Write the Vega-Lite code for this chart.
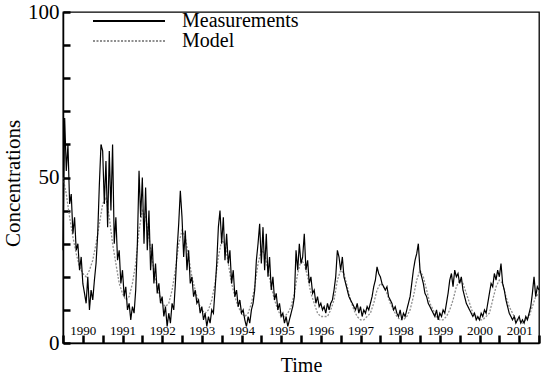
{
  "$schema": "https://vega.github.io/schema/vega-lite/v6.json",
  "width": 476,
  "height": 331,
  "autosize": {"type": "none"},
  "padding": {"left": 63, "top": 12, "right": 4, "bottom": 38},
  "background": "white",
  "config": {
    "font": "Liberation Serif",
    "view": {"stroke": "black", "strokeWidth": 1.3}
  },
  "datasets": {
    "meas": [
      {"t":1990.000,"v":28},{"t":1990.042,"v":68},{"t":1990.083,"v":52},{"t":1990.125,"v":60},{"t":1990.167,"v":42},{"t":1990.208,"v":45},{"t":1990.250,"v":33},{"t":1990.292,"v":38},{"t":1990.333,"v":28},{"t":1990.375,"v":30},{"t":1990.417,"v":22},{"t":1990.458,"v":26},{"t":1990.500,"v":18},{"t":1990.542,"v":15},{"t":1990.583,"v":12},{"t":1990.625,"v":20},{"t":1990.667,"v":10},{"t":1990.708,"v":16},{"t":1990.750,"v":13},{"t":1990.792,"v":19},{"t":1990.833,"v":24},{"t":1990.875,"v":33},{"t":1990.917,"v":48},{"t":1990.958,"v":60},
      {"t":1991.000,"v":58},{"t":1991.042,"v":42},{"t":1991.083,"v":55},{"t":1991.125,"v":35},{"t":1991.167,"v":58},{"t":1991.208,"v":40},{"t":1991.250,"v":60},{"t":1991.292,"v":30},{"t":1991.333,"v":38},{"t":1991.375,"v":25},{"t":1991.417,"v":28},{"t":1991.458,"v":18},{"t":1991.500,"v":22},{"t":1991.542,"v":14},{"t":1991.583,"v":17},{"t":1991.625,"v":10},{"t":1991.667,"v":12},{"t":1991.708,"v":7},{"t":1991.750,"v":11},{"t":1991.792,"v":9},{"t":1991.833,"v":16},{"t":1991.875,"v":30},{"t":1991.917,"v":52},{"t":1991.958,"v":38},
      {"t":1992.000,"v":50},{"t":1992.042,"v":30},{"t":1992.083,"v":47},{"t":1992.125,"v":28},{"t":1992.167,"v":40},{"t":1992.208,"v":22},{"t":1992.250,"v":30},{"t":1992.292,"v":18},{"t":1992.333,"v":24},{"t":1992.375,"v":15},{"t":1992.417,"v":18},{"t":1992.458,"v":12},{"t":1992.500,"v":14},{"t":1992.542,"v":8},{"t":1992.583,"v":11},{"t":1992.625,"v":5},{"t":1992.667,"v":9},{"t":1992.708,"v":6},{"t":1992.750,"v":12},{"t":1992.792,"v":10},{"t":1992.833,"v":18},{"t":1992.875,"v":28},{"t":1992.917,"v":36},{"t":1992.958,"v":46},
      {"t":1993.000,"v":38},{"t":1993.042,"v":26},{"t":1993.083,"v":34},{"t":1993.125,"v":22},{"t":1993.167,"v":28},{"t":1993.208,"v":18},{"t":1993.250,"v":20},{"t":1993.292,"v":14},{"t":1993.333,"v":16},{"t":1993.375,"v":12},{"t":1993.417,"v":13},{"t":1993.458,"v":9},{"t":1993.500,"v":11},{"t":1993.542,"v":7},{"t":1993.583,"v":9},{"t":1993.625,"v":5},{"t":1993.667,"v":8},{"t":1993.708,"v":6},{"t":1993.750,"v":10},{"t":1993.792,"v":9},{"t":1993.833,"v":16},{"t":1993.875,"v":24},{"t":1993.917,"v":35},{"t":1993.958,"v":40},
      {"t":1994.000,"v":30},{"t":1994.042,"v":38},{"t":1994.083,"v":25},{"t":1994.125,"v":33},{"t":1994.167,"v":24},{"t":1994.208,"v":28},{"t":1994.250,"v":18},{"t":1994.292,"v":22},{"t":1994.333,"v":14},{"t":1994.375,"v":16},{"t":1994.417,"v":11},{"t":1994.458,"v":13},{"t":1994.500,"v":9},{"t":1994.542,"v":10},{"t":1994.583,"v":7},{"t":1994.625,"v":5},{"t":1994.667,"v":8},{"t":1994.708,"v":6},{"t":1994.750,"v":10},{"t":1994.792,"v":12},{"t":1994.833,"v":16},{"t":1994.875,"v":25},{"t":1994.917,"v":30},{"t":1994.958,"v":36},
      {"t":1995.000,"v":24},{"t":1995.042,"v":35},{"t":1995.083,"v":22},{"t":1995.125,"v":33},{"t":1995.167,"v":20},{"t":1995.208,"v":26},{"t":1995.250,"v":16},{"t":1995.292,"v":20},{"t":1995.333,"v":13},{"t":1995.375,"v":15},{"t":1995.417,"v":10},{"t":1995.458,"v":12},{"t":1995.500,"v":8},{"t":1995.542,"v":9},{"t":1995.583,"v":6},{"t":1995.625,"v":8},{"t":1995.667,"v":5},{"t":1995.708,"v":7},{"t":1995.750,"v":9},{"t":1995.792,"v":11},{"t":1995.833,"v":14},{"t":1995.875,"v":28},{"t":1995.917,"v":22},{"t":1995.958,"v":30},
      {"t":1996.000,"v":24},{"t":1996.042,"v":26},{"t":1996.083,"v":33},{"t":1996.125,"v":22},{"t":1996.167,"v":25},{"t":1996.208,"v":18},{"t":1996.250,"v":20},{"t":1996.292,"v":15},{"t":1996.333,"v":16},{"t":1996.375,"v":12},{"t":1996.417,"v":14},{"t":1996.458,"v":11},{"t":1996.500,"v":12},{"t":1996.542,"v":10},{"t":1996.583,"v":11},{"t":1996.625,"v":9},{"t":1996.667,"v":12},{"t":1996.708,"v":10},{"t":1996.750,"v":12},{"t":1996.792,"v":13},{"t":1996.833,"v":16},{"t":1996.875,"v":20},{"t":1996.917,"v":28},{"t":1996.958,"v":26},
      {"t":1997.000,"v":22},{"t":1997.042,"v":26},{"t":1997.083,"v":20},{"t":1997.125,"v":18},{"t":1997.167,"v":16},{"t":1997.208,"v":14},{"t":1997.250,"v":13},{"t":1997.292,"v":12},{"t":1997.333,"v":11},{"t":1997.375,"v":10},{"t":1997.417,"v":12},{"t":1997.458,"v":9},{"t":1997.500,"v":11},{"t":1997.542,"v":8},{"t":1997.583,"v":10},{"t":1997.625,"v":9},{"t":1997.667,"v":11},{"t":1997.708,"v":10},{"t":1997.750,"v":12},{"t":1997.792,"v":14},{"t":1997.833,"v":17},{"t":1997.875,"v":19},{"t":1997.917,"v":23},{"t":1997.958,"v":21},
      {"t":1998.000,"v":20},{"t":1998.042,"v":18},{"t":1998.083,"v":17},{"t":1998.125,"v":16},{"t":1998.167,"v":17},{"t":1998.208,"v":14},{"t":1998.250,"v":13},{"t":1998.292,"v":12},{"t":1998.333,"v":10},{"t":1998.375,"v":11},{"t":1998.417,"v":9},{"t":1998.458,"v":8},{"t":1998.500,"v":10},{"t":1998.542,"v":7},{"t":1998.583,"v":9},{"t":1998.625,"v":8},{"t":1998.667,"v":10},{"t":1998.708,"v":12},{"t":1998.750,"v":14},{"t":1998.792,"v":18},{"t":1998.833,"v":22},{"t":1998.875,"v":25},{"t":1998.917,"v":27},{"t":1998.958,"v":30},
      {"t":1999.000,"v":22},{"t":1999.042,"v":20},{"t":1999.083,"v":18},{"t":1999.125,"v":15},{"t":1999.167,"v":14},{"t":1999.208,"v":12},{"t":1999.250,"v":11},{"t":1999.292,"v":10},{"t":1999.333,"v":9},{"t":1999.375,"v":8},{"t":1999.417,"v":10},{"t":1999.458,"v":7},{"t":1999.500,"v":9},{"t":1999.542,"v":8},{"t":1999.583,"v":10},{"t":1999.625,"v":9},{"t":1999.667,"v":12},{"t":1999.708,"v":15},{"t":1999.750,"v":19},{"t":1999.792,"v":21},{"t":1999.833,"v":17},{"t":1999.875,"v":22},{"t":1999.917,"v":20},{"t":1999.958,"v":21},
      {"t":2000.000,"v":18},{"t":2000.042,"v":20},{"t":2000.083,"v":16},{"t":2000.125,"v":14},{"t":2000.167,"v":12},{"t":2000.208,"v":11},{"t":2000.250,"v":10},{"t":2000.292,"v":9},{"t":2000.333,"v":8},{"t":2000.375,"v":9},{"t":2000.417,"v":7},{"t":2000.458,"v":8},{"t":2000.500,"v":7},{"t":2000.542,"v":9},{"t":2000.583,"v":8},{"t":2000.625,"v":10},{"t":2000.667,"v":9},{"t":2000.708,"v":12},{"t":2000.750,"v":15},{"t":2000.792,"v":18},{"t":2000.833,"v":17},{"t":2000.875,"v":21},{"t":2000.917,"v":19},{"t":2000.958,"v":22},
      {"t":2001.000,"v":20},{"t":2001.042,"v":24},{"t":2001.083,"v":18},{"t":2001.125,"v":16},{"t":2001.167,"v":13},{"t":2001.208,"v":11},{"t":2001.250,"v":9},{"t":2001.292,"v":8},{"t":2001.333,"v":7},{"t":2001.375,"v":8},{"t":2001.417,"v":6},{"t":2001.458,"v":7},{"t":2001.500,"v":8},{"t":2001.542,"v":6},{"t":2001.583,"v":7},{"t":2001.625,"v":6},{"t":2001.667,"v":8},{"t":2001.708,"v":7},{"t":2001.750,"v":9},{"t":2001.792,"v":11},{"t":2001.833,"v":15},{"t":2001.875,"v":20},{"t":2001.917,"v":14},{"t":2001.958,"v":17},
      {"t":2002.000,"v":16}
    ],
    "model": [
      {"t":1990.000,"v":50},{"t":1990.083,"v":45},{"t":1990.167,"v":38},{"t":1990.250,"v":32},{"t":1990.333,"v":27},{"t":1990.417,"v":23},{"t":1990.500,"v":21},{"t":1990.583,"v":20},{"t":1990.667,"v":22},{"t":1990.750,"v":25},{"t":1990.833,"v":30},{"t":1990.917,"v":36},
      {"t":1991.000,"v":42},{"t":1991.083,"v":44},{"t":1991.167,"v":38},{"t":1991.250,"v":30},{"t":1991.333,"v":24},{"t":1991.417,"v":18},{"t":1991.500,"v":15},{"t":1991.583,"v":13},{"t":1991.667,"v":14},{"t":1991.750,"v":18},{"t":1991.833,"v":24},{"t":1991.917,"v":34},
      {"t":1992.000,"v":40},{"t":1992.083,"v":38},{"t":1992.167,"v":32},{"t":1992.250,"v":25},{"t":1992.333,"v":19},{"t":1992.417,"v":15},{"t":1992.500,"v":12},{"t":1992.583,"v":11},{"t":1992.667,"v":12},{"t":1992.750,"v":16},{"t":1992.833,"v":22},{"t":1992.917,"v":30},
      {"t":1993.000,"v":34},{"t":1993.083,"v":32},{"t":1993.167,"v":26},{"t":1993.250,"v":20},{"t":1993.333,"v":16},{"t":1993.417,"v":12},{"t":1993.500,"v":10},{"t":1993.583,"v":9},{"t":1993.667,"v":10},{"t":1993.750,"v":13},{"t":1993.833,"v":18},{"t":1993.917,"v":26},
      {"t":1994.000,"v":31},{"t":1994.083,"v":30},{"t":1994.167,"v":24},{"t":1994.250,"v":18},{"t":1994.333,"v":14},{"t":1994.417,"v":11},{"t":1994.500,"v":9},{"t":1994.583,"v":8},{"t":1994.667,"v":9},{"t":1994.750,"v":12},{"t":1994.833,"v":17},{"t":1994.917,"v":24},
      {"t":1995.000,"v":28},{"t":1995.083,"v":27},{"t":1995.167,"v":22},{"t":1995.250,"v":17},{"t":1995.333,"v":13},{"t":1995.417,"v":10},{"t":1995.500,"v":8},{"t":1995.583,"v":8},{"t":1995.667,"v":9},{"t":1995.750,"v":11},{"t":1995.833,"v":15},{"t":1995.917,"v":21},
      {"t":1996.000,"v":25},{"t":1996.083,"v":24},{"t":1996.167,"v":20},{"t":1996.250,"v":15},{"t":1996.333,"v":12},{"t":1996.417,"v":9},{"t":1996.500,"v":8},{"t":1996.583,"v":8},{"t":1996.667,"v":8},{"t":1996.750,"v":10},{"t":1996.833,"v":13},{"t":1996.917,"v":19},
      {"t":1997.000,"v":22},{"t":1997.083,"v":21},{"t":1997.167,"v":17},{"t":1997.250,"v":13},{"t":1997.333,"v":10},{"t":1997.417,"v":8},{"t":1997.500,"v":7},{"t":1997.583,"v":7},{"t":1997.667,"v":8},{"t":1997.750,"v":9},{"t":1997.833,"v":12},{"t":1997.917,"v":16},
      {"t":1998.000,"v":18},{"t":1998.083,"v":17},{"t":1998.167,"v":15},{"t":1998.250,"v":12},{"t":1998.333,"v":10},{"t":1998.417,"v":8},{"t":1998.500,"v":7},{"t":1998.583,"v":7},{"t":1998.667,"v":8},{"t":1998.750,"v":10},{"t":1998.833,"v":14},{"t":1998.917,"v":19},
      {"t":1999.000,"v":22},{"t":1999.083,"v":20},{"t":1999.167,"v":16},{"t":1999.250,"v":12},{"t":1999.333,"v":10},{"t":1999.417,"v":8},{"t":1999.500,"v":7},{"t":1999.583,"v":7},{"t":1999.667,"v":8},{"t":1999.750,"v":10},{"t":1999.833,"v":13},{"t":1999.917,"v":17},
      {"t":2000.000,"v":19},{"t":2000.083,"v":18},{"t":2000.167,"v":15},{"t":2000.250,"v":12},{"t":2000.333,"v":9},{"t":2000.417,"v":8},{"t":2000.500,"v":7},{"t":2000.583,"v":7},{"t":2000.667,"v":8},{"t":2000.750,"v":9},{"t":2000.833,"v":13},{"t":2000.917,"v":17},
      {"t":2001.000,"v":19},{"t":2001.083,"v":18},{"t":2001.167,"v":14},{"t":2001.250,"v":11},{"t":2001.333,"v":9},{"t":2001.417,"v":7},{"t":2001.500,"v":7},{"t":2001.583,"v":6},{"t":2001.667,"v":7},{"t":2001.750,"v":8},{"t":2001.833,"v":11},{"t":2001.917,"v":14},
      {"t":2002.000,"v":15}
    ]
  },
  "encoding": {
    "color": {"type": "nominal", "scale": {"domain": ["Measurements", "Model"], "range": ["black", "#8f8f8f"]},
      "legend": {"title": null, "orient": "none", "legendX": 56, "legendY": -1, "padding": 0, "symbolType": "M-4,0H4", "symbolSize": 324, "symbolStrokeWidth": 2, "symbolFillColor": "transparent", "labelFontSize": 20, "labelFont": "Liberation Serif", "labelColor": "black", "labelOffset": 43, "rowPadding": 0}},
    "strokeDash": {"type": "nominal", "scale": {"domain": ["Measurements", "Model"], "range": [[1, 0], [2, 1.5]]}, "legend": null}
  },
  "layer": [
    {"data": {"name": "model"}, "mark": {"type": "line", "strokeWidth": 1.3},
      "encoding": {
        "x": {"field": "t", "type": "quantitative", "scale": {"domain": [1990, 2002], "nice": false, "zero": false},
          "axis": {"orient": "bottom", "grid": false, "domainColor": "black", "domainWidth": 1.5, "labelColor": "black", "titleColor": "black", "labelFont": "Liberation Serif", "titleFont": "Liberation Serif", "titleFontWeight": "normal",
            "title": "Time", "titleFontSize": 20, "titlePadding": 12, "tickSize": 0, "values": [1990.5,1991.5,1992.5,1993.5,1994.5,1995.5,1996.5,1997.5,1998.5,1999.5,2000.5,2001.5],
            "labelExpr": "'' + floor(datum.value)", "labelFontSize": 13, "labelPadding": -19, "labelOverlap": false, "labelFlush": false}},
        "y": {"field": "v", "type": "quantitative", "scale": {"domain": [0, 100], "nice": false},
          "axis": {"orient": "left", "grid": false, "domainColor": "black", "domainWidth": 1.5, "labelColor": "black", "titleColor": "black", "labelFont": "Liberation Serif", "titleFont": "Liberation Serif", "titleFontWeight": "normal",
            "title": "Concentrations", "titleFontSize": 21, "titlePadding": 4, "titleY": 171, "tickSize": 0, "values": [0, 50, 100], "labelFontSize": 21, "labelPadding": 4}},
        "color": {"datum": "Model"}, "strokeDash": {"datum": "Model"}}},
    {"data": {"name": "meas"}, "mark": {"type": "line", "strokeWidth": 1.2},
      "encoding": {
        "x": {"field": "t", "type": "quantitative",
          "axis": {"orient": "top", "offset": -331, "grid": false, "title": null, "labels": false, "domain": false, "tickSize": 8, "tickColor": "black", "tickWidth": 2.5, "values": [1990,1990.5,1991,1991.5,1992,1992.5,1993,1993.5,1994,1994.5,1995,1995.5,1996,1996.5,1997,1997.5,1998,1998.5,1999,1999.5,2000,2000.5,2001,2001.5,2002]}},
        "y": {"field": "v", "type": "quantitative",
          "axis": {"orient": "right", "offset": -476, "gridOpacity": 0, "title": null, "labels": false, "domain": false, "tickSize": 7, "tickColor": "black", "tickWidth": 2.5, "values": [0,10,20,30,40,50,60,70,80,90,100]}},
        "color": {"datum": "Measurements"}, "strokeDash": {"datum": "Measurements"}}}
  ]
}
